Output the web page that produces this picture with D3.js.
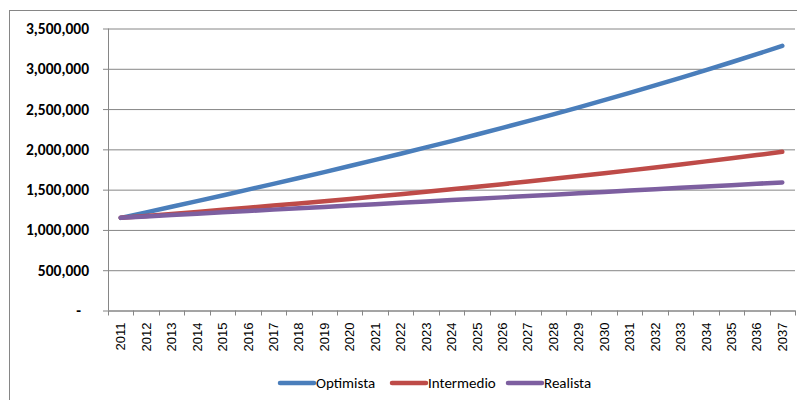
<!DOCTYPE html>
<html>
<head>
<meta charset="utf-8">
<script src="https://cdn.jsdelivr.net/npm/d3@7"></script>
<style>
  body { margin: 0; background: #fff; }
  svg { display: block; }
</style>
</head>
<body>
<svg id="chart" width="797" height="400"></svg>
<script>
const years = ["2011","2012","2013","2014","2015","2016","2017","2018","2019","2020",
  "2021","2022","2023","2024","2025","2026","2027","2028","2029","2030",
  "2031","2032","2033","2034","2035","2036","2037"];

const optimista = [1150000,1218000,1287000,1357000,1428000,1500000,1572000,1645000,1718000,1793000,
  1869000,1946000,2024000,2103000,2184000,2266000,2350000,2435000,2522000,2611000,
  2701000,2793000,2887000,2983000,3081000,3181000,3285000];

const intermedio = [1150000,1174000,1199000,1224000,1249000,1275000,1302000,1329000,1357000,1385000,
  1414000,1444000,1474000,1505000,1536000,1568000,1601000,1635000,1669000,1704000,
  1739000,1776000,1813000,1851000,1889000,1929000,1969000];

const realista = [1150000,1167000,1184000,1201000,1218000,1235000,1252000,1268000,1285000,1302000,
  1319000,1336000,1353000,1370000,1387000,1404000,1421000,1438000,1455000,1472000,
  1488000,1505000,1522000,1539000,1556000,1573000,1590000];

const yTicks = [0, 500000, 1000000, 1500000, 2000000, 2500000, 3000000, 3500000];

const series = [
  {name: "Optimista", values: optimista, color: "#4a7ebb"},
  {name: "Intermedio", values: intermedio, color: "#be4b48"},
  {name: "Realista", values: realista, color: "#7d5fa0"}
];

const grid = {left: 108, right: 795, top: 28.5, bottom: 310.5};
const axisColor = "#868686";

const svg = d3.select("#chart");

// chart frame
svg.append("rect")
  .attr("x", 9.5).attr("y", 10.5)
  .attr("width", 820).attr("height", 420)
  .attr("fill", "none")
  .attr("stroke", axisColor);

const x = d3.scaleBand().domain(years).range([grid.left, grid.right]);
const y = d3.scaleLinear().domain([0, 3500000]).range([grid.bottom, grid.top]);

// gridlines + y axis
const yAxis = d3.axisLeft(y)
  .tickValues(yTicks)
  .tickSize(-(grid.right - grid.left))
  .tickPadding(19)
  .tickFormat(d => d === 0 ? "-" : d3.format(",")(d));

const gy = svg.append("g")
  .attr("transform", `translate(${grid.left},0)`)
  .call(yAxis);
gy.select(".domain").remove();
gy.selectAll(".tick line")
  .attr("x1", -5)
  .attr("stroke", axisColor);
gy.selectAll(".tick text")
  .attr("font-family", "Calibri, Carlito, Lato, sans-serif")
  .attr("font-weight", "bold")
  .attr("font-size", 15.5)
  .attr("fill", "#000")
  .attr("dx", d => d === 0 ? -8 : 0);

// left axis line
svg.append("line")
  .attr("x1", grid.left + 0.5).attr("x2", grid.left + 0.5)
  .attr("y1", grid.top).attr("y2", grid.bottom)
  .attr("stroke", axisColor);

// x axis
const gx = svg.append("g")
  .attr("transform", `translate(0,${grid.bottom})`)
  .call(d3.axisBottom(x).tickSize(0).tickPadding(0));
gx.select(".domain").attr("stroke", axisColor);
gx.selectAll(".tick text")
  .attr("font-family", "Arial, 'Liberation Sans', sans-serif")
  .attr("font-size", 13)
  .attr("fill", "#000")
  .attr("text-anchor", "end")
  .attr("dy", "0.35em")
  .attr("transform", "translate(0,12) rotate(-90)");

// tick marks between categories
gx.selectAll("line.sep")
  .data(years.concat(["end"]))
  .join("line")
  .attr("class", "sep")
  .attr("x1", (d, i) => Math.round(grid.left + i * x.step()) + 0.5)
  .attr("x2", (d, i) => Math.round(grid.left + i * x.step()) + 0.5)
  .attr("y1", 0).attr("y2", 5)
  .attr("stroke", axisColor);

// lines
const line = d3.line()
  .x((d, i) => x(years[i]) + x.bandwidth() / 2)
  .y(d => y(d));

svg.append("g").selectAll("path")
  .data(series)
  .join("path")
  .attr("d", d => line(d.values))
  .attr("fill", "none")
  .attr("stroke", d => d.color)
  .attr("stroke-width", 4.5)
  .attr("stroke-linecap", "round")
  .attr("stroke-linejoin", "round");

// legend
const legendX = [280, 392, 508];
const legend = svg.append("g").selectAll("g")
  .data(series)
  .join("g")
  .attr("transform", (d, i) => `translate(${legendX[i]},383)`);

legend.append("line")
  .attr("x1", 0).attr("x2", 34)
  .attr("stroke", d => d.color)
  .attr("stroke-width", 4.5)
  .attr("stroke-linecap", "round");

legend.append("text")
  .attr("x", 36)
  .attr("dy", "0.35em")
  .attr("font-family", "Calibri, Carlito, Lato, sans-serif")
  .attr("font-size", 15)
  .attr("fill", "#000")
  .text(d => d.name);
</script>
</body>
</html>
